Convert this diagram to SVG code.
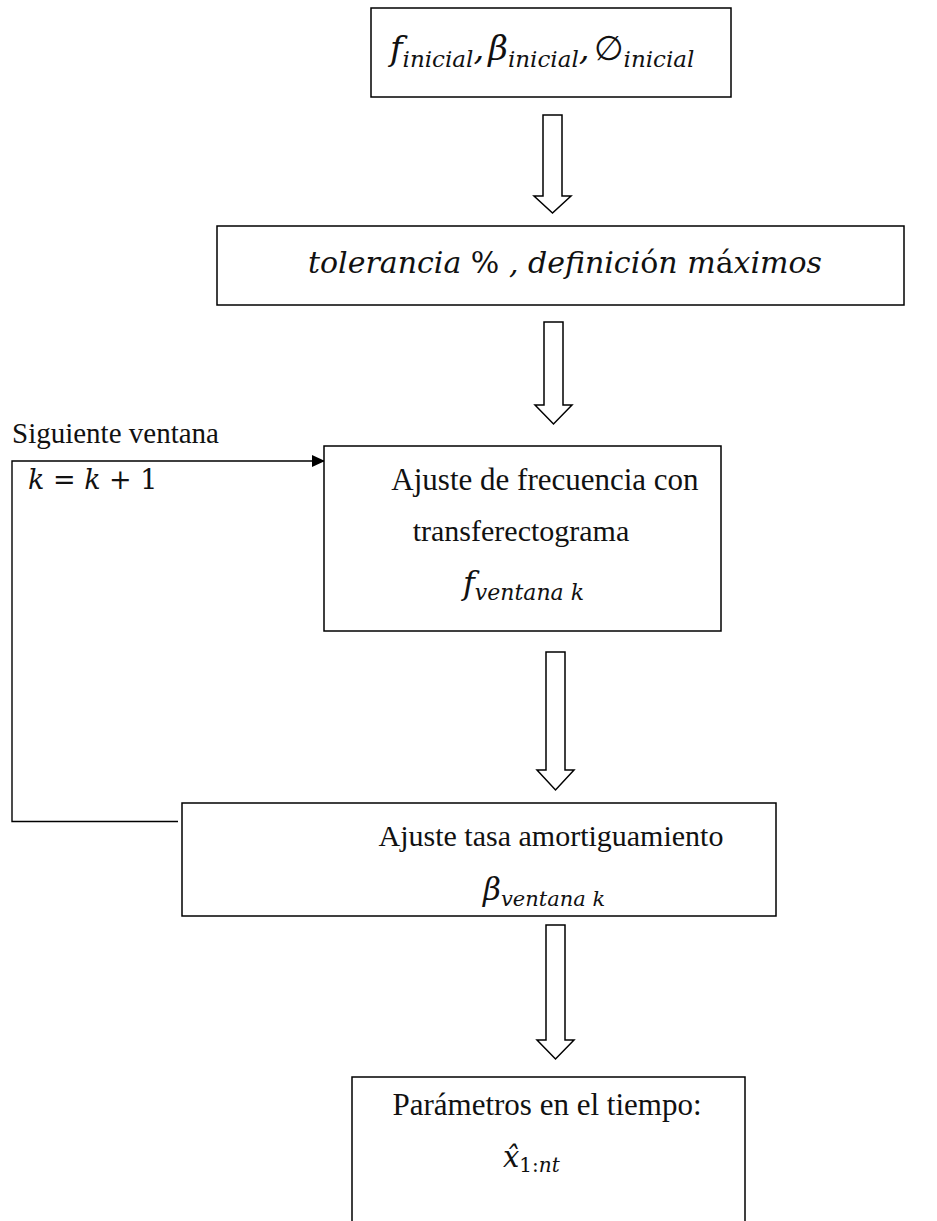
<svg xmlns="http://www.w3.org/2000/svg" width="937" height="1221" viewBox="0 0 937 1221">
<style>
.box{fill:#fff;stroke:#000;stroke-width:1.5}
.harrow{fill:#fff;stroke:#000;stroke-width:1.5;stroke-linejoin:miter}
.line{fill:none;stroke:#000;stroke-width:1.4}
.rm{font-family:"Liberation Serif","DejaVu Serif",serif;fill:#111}
.mi{font-family:"DejaVu Serif","Liberation Serif",serif;font-style:italic;fill:#111}
.up{font-style:normal}
</style>
<defs>
<marker id="tri" markerWidth="13" markerHeight="12" refX="12" refY="6" orient="auto" markerUnits="userSpaceOnUse">
<path d="M0,0 L13,6 L0,12 Z" fill="#000"/>
</marker>
</defs>
<rect width="937" height="1221" fill="#fff"/>

<g id="connectors">
<path class="harrow" d="M543,115 H562 V196 H571 L552.5,213 L534,196 H543 Z"/>
<path class="harrow" d="M544,322 H563 V405 H572 L553.5,424 L535,405 H544 Z"/>
<path class="harrow" d="M546,652 H565 V770 H574 L555.5,790 L537,770 H546 Z"/>
<path class="harrow" d="M546,925 H565 V1040 H574 L555.5,1059 L537,1040 H546 Z"/>
<path class="line" d="M178,821.5 H12 V461 H324" marker-end="url(#tri)"/>
<text class="rm" x="12" y="443" font-size="29">Siguiente ventana</text>
<text class="mi" x="28" y="489" font-size="27">k <tspan class="up">=</tspan> k <tspan class="up">+</tspan> <tspan class="up">1</tspan></text>
</g>

<g id="node1">
<rect class="box" x="371" y="8" width="360" height="89"/>
<text class="mi" x="390" y="60" font-size="34">f<tspan font-size="23" dy="7">inicial</tspan><tspan dy="-7">,</tspan><tspan dx="4">β</tspan><tspan font-size="23" dy="7">inicial</tspan><tspan dy="-7">,</tspan><tspan class="up" dx="4">∅</tspan><tspan font-size="23" dy="7">inicial</tspan></text>
</g>

<g id="node2">
<rect class="box" x="217" y="226" width="687" height="79"/>
<text class="mi" x="308" y="273" font-size="30">tolerancia <tspan class="up">%</tspan> , definici<tspan class="up">ó</tspan>n m<tspan class="up">á</tspan>ximos</text>
</g>

<g id="node3">
<rect class="box" x="324" y="446" width="397" height="185"/>
<text class="rm" x="545" y="490" text-anchor="middle" font-size="31">Ajuste de frecuencia con</text>
<text class="rm" x="521" y="541" text-anchor="middle" font-size="30">transferectograma</text>
<text class="mi" x="463" y="594" font-size="32">f<tspan font-size="22" dy="6">ventana k</tspan></text>
</g>

<g id="node4">
<rect class="box" x="182" y="803" width="594" height="113"/>
<text class="rm" x="551" y="846" text-anchor="middle" font-size="30">Ajuste tasa amortiguamiento</text>
<text class="mi" x="483" y="900" font-size="31">β<tspan font-size="21" dy="6">ventana k</tspan></text>
</g>

<g id="node5">
<rect class="box" x="352" y="1077" width="393" height="160"/>
<text class="rm" x="547" y="1115" text-anchor="middle" font-size="31">Parámetros en el tiempo:</text>
<text class="mi" x="503" y="1167" font-size="29">x̂<tspan class="up" font-size="20" dy="5">1:</tspan><tspan font-size="20">nt</tspan></text>
</g>
</svg>
